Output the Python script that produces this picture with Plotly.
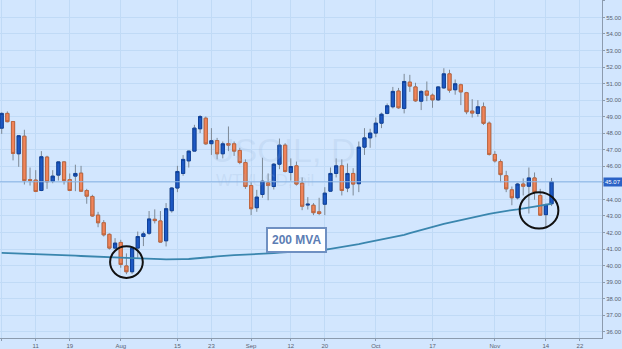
import pandas as pd
import plotly.graph_objects as go

# Daily WTI crude sessions, 1 Jul - 15 Nov 2016
dates = pd.bdate_range("2016-07-01", "2016-11-15")

opens = [48.31, 49.20, 48.71, 46.76, 47.82, 45.20, 45.17, 44.54, 46.56, 45.10,
         45.47, 46.27, 45.20, 45.41, 45.59, 44.54, 44.18, 43.05, 42.59, 41.89,
         41.06, 41.40, 39.98, 39.63, 41.06, 41.76, 41.96, 42.80, 42.70, 41.50,
         43.32, 44.69, 45.57, 46.33, 46.92, 48.27, 48.91, 47.37, 47.56, 46.76,
         47.38, 47.36, 46.96, 46.23, 44.84, 43.50, 44.30, 45.00, 44.78, 46.13,
         47.28, 45.63, 46.03, 44.98, 43.66, 43.65, 43.25, 43.71, 44.50, 45.57,
         46.03, 44.69, 45.57, 44.95, 47.16, 47.72, 48.01, 48.61, 49.20, 49.60,
         50.55, 49.50, 51.09, 50.80, 49.94, 50.55, 50.30, 50.02, 50.74, 51.59,
         50.63, 50.93, 50.45, 49.34, 49.20, 49.60, 48.61, 46.72, 46.29, 45.43,
         44.58, 44.10, 44.93, 44.80, 45.30, 44.24, 43.08, 43.74]
highs = [49.26, 49.32, 48.73, 47.89, 48.21, 45.93, 45.77, 46.92, 46.64, 45.77,
         46.30, 46.30, 45.57, 46.10, 46.03, 44.64, 44.28, 43.25, 42.75, 41.95,
         41.66, 41.56, 40.74, 41.12, 42.06, 42.06, 43.30, 43.40, 43.30, 43.78,
         44.74, 46.03, 46.68, 46.95, 48.51, 49.10, 49.01, 48.31, 47.72, 47.50,
         48.41, 47.50, 47.12, 46.42, 45.04, 44.58, 46.52, 45.57, 46.20, 47.68,
         47.40, 46.48, 46.29, 45.33, 44.14, 43.78, 44.10, 44.74, 45.93, 46.48,
         46.42, 46.17, 45.89, 47.50, 48.31, 48.27, 48.95, 49.25, 49.80, 50.80,
         50.74, 51.59, 51.53, 51.05, 50.60, 51.13, 50.40, 50.85, 51.93, 51.84,
         51.25, 51.00, 50.50, 50.06, 50.00, 49.86, 48.71, 46.92, 46.42, 45.73,
         44.78, 45.00, 45.27, 45.93, 45.63, 44.64, 43.75, 45.30]
lows = [47.96, 48.66, 46.36, 45.97, 44.90, 44.84, 44.44, 44.50, 44.64, 44.98,
        45.14, 44.90, 44.50, 44.50, 44.47, 43.74, 42.95, 42.32, 41.76, 40.97,
        41.00, 39.87, 39.48, 39.50, 40.47, 41.18, 41.86, 42.55, 41.40, 41.16,
        43.20, 44.44, 45.43, 45.93, 46.90, 48.01, 47.30, 46.69, 46.42, 46.48,
        46.92, 46.63, 46.13, 44.64, 43.05, 43.25, 44.10, 43.95, 44.60, 45.83,
        45.63, 45.14, 44.84, 43.35, 43.39, 43.05, 43.05, 43.05, 44.45, 45.33,
        44.24, 44.44, 44.24, 44.44, 46.69, 47.12, 47.76, 48.31, 49.15, 49.50,
        49.48, 49.20, 50.50, 49.90, 49.40, 49.94, 49.54, 49.95, 50.70, 50.45,
        50.33, 49.70, 49.15, 48.95, 49.00, 48.50, 46.65, 46.23, 45.04, 44.44,
        43.65, 44.00, 44.24, 43.15, 43.98, 43.00, 42.26, 43.60]
closes = [49.20, 48.70, 46.78, 47.85, 45.14, 45.15, 44.48, 46.58, 45.07, 45.41,
          46.27, 45.14, 44.54, 45.57, 44.50, 44.20, 43.00, 42.59, 41.86, 41.06,
          41.36, 40.07, 39.63, 41.06, 41.76, 41.92, 42.82, 42.72, 41.42, 43.44,
          44.69, 45.69, 46.42, 46.92, 48.31, 49.01, 47.36, 47.55, 46.76, 47.36,
          47.28, 46.92, 46.23, 44.78, 43.44, 44.14, 45.10, 44.84, 46.13, 47.28,
          45.69, 45.99, 44.93, 43.59, 43.71, 43.20, 43.15, 44.38, 45.57, 46.03,
          44.54, 45.57, 44.93, 47.16, 47.72, 48.01, 48.61, 49.15, 49.66, 50.53,
          49.54, 51.13, 50.85, 49.96, 50.53, 50.30, 50.02, 50.80, 51.59, 50.60,
          50.99, 50.50, 49.30, 49.22, 49.60, 48.60, 46.72, 46.33, 45.50, 44.64,
          44.10, 44.93, 44.80, 45.30, 44.44, 43.05, 43.68, 45.07]

# 200-day moving average
ma200 = [40.77, 40.76, 40.74, 40.73, 40.72, 40.70, 40.69, 40.68, 40.66, 40.65,
         40.63, 40.62, 40.61, 40.60, 40.58, 40.56, 40.55, 40.54, 40.52, 40.51,
         40.49, 40.48, 40.47, 40.45, 40.44, 40.42, 40.41, 40.40, 40.39, 40.38,
         40.37, 40.38, 40.39, 40.40, 40.42, 40.44, 40.48, 40.52, 40.56, 40.60,
         40.62, 40.64, 40.65, 40.66, 40.68, 40.69, 40.71, 40.73, 40.75, 40.78,
         40.80, 40.82, 40.85, 40.87, 40.89, 40.92, 40.94, 40.96, 41.01, 41.06,
         41.11, 41.16, 41.23, 41.30, 41.37, 41.44, 41.51, 41.58, 41.65, 41.72,
         41.76, 41.86, 41.96, 42.06, 42.16, 42.26, 42.36, 42.44, 42.52, 42.60,
         42.68, 42.77, 42.85, 42.92, 42.99, 43.06, 43.13, 43.19, 43.26, 43.31,
         43.36, 43.40, 43.44, 43.50, 43.56, 43.62, 43.68, 43.74]

tick_dates = ["2016-07-01", "2016-07-11", "2016-07-19", "2016-08-01", "2016-08-15",
              "2016-08-23", "2016-09-01", "2016-09-12", "2016-09-20", "2016-10-03",
              "2016-10-17", "2016-11-01", "2016-11-14", "2016-11-22"]
tick_text = ["Jul", "11", "19", "Aug", "15", "23", "Sep", "12", "20", "Oct",
             "17", "Nov", "14", "22"]

last_price = closes[-1]

UP = "#1D58C4"
DOWN = "#F0845A"
BG = "#D2E6FE"
GRID = "#C0DAF6"

fig = go.Figure()

# full candles: grey wicks
fig.add_trace(go.Candlestick(
    x=dates, open=opens, high=highs, low=lows, close=closes,
    increasing=dict(line=dict(color="#7D8996", width=1), fillcolor=UP),
    decreasing=dict(line=dict(color="#7D8996", width=1), fillcolor=DOWN),
    hoverinfo="skip", showlegend=False,
))
# bodies drawn again on top with darker outlines
fig.add_trace(go.Candlestick(
    x=dates, open=opens, close=closes,
    high=[max(o, c) for o, c in zip(opens, closes)],
    low=[min(o, c) for o, c in zip(opens, closes)],
    increasing=dict(line=dict(color="#0F429C", width=1), fillcolor=UP),
    decreasing=dict(line=dict(color="#C0673F", width=1), fillcolor=DOWN),
    hoverinfo="skip", showlegend=False,
))
fig.add_trace(go.Scatter(
    x=dates, y=ma200, mode="lines",
    line=dict(color="#3A86AE", width=1.8),
    hoverinfo="skip", showlegend=False,
))

# last price line
fig.add_shape(type="line", xref="paper", x0=0, x1=1, yref="y", y0=last_price, y1=last_price,
              line=dict(color="#8DB6E6", width=1))
fig.add_annotation(xref="paper", x=1.0, xanchor="left", yref="y", y=last_price,
                   text=f"{last_price:.2f}", showarrow=False,
                   font=dict(family="Arial", size=6, color="white"),
                   bgcolor="#2A62C6", borderpad=1, xshift=1)

# symbol watermark
fig.add_annotation(xref="paper", yref="paper", x=0.47, y=0.555, text="USOIL, D",
                   showarrow=False, font=dict(family="Arial", size=34, color="rgba(150,178,215,0.2)"))
fig.add_annotation(xref="paper", yref="paper", x=0.44, y=0.465, text="WTI/USD, oil",
                   showarrow=False, font=dict(family="Arial", size=17, color="rgba(150,178,215,0.2)"))

# highlighted touches of the moving average
fig.add_shape(type="circle", xref="paper", yref="paper",
              x0=111 / 607, x1=144 / 607, y0=1 - 282 / 343, y1=1 - 250 / 343,
              line=dict(color="#111111", width=2))
fig.add_shape(type="circle", xref="paper", yref="paper",
              x0=524 / 607, x1=563 / 607, y0=1 - 232 / 343, y1=1 - 195 / 343,
              line=dict(color="#111111", width=2))

fig.add_annotation(xref="paper", yref="paper", x=299 / 607, y=1 - 257 / 343,
                   text="<b>200 MVA</b>", showarrow=False,
                   font=dict(family="Arial", size=12, color="#5C7DB4"),
                   bgcolor="white", bordercolor="#6F90C2", borderwidth=2, borderpad=4)

fig.update_layout(
    width=622, height=349,
    margin=dict(l=0, r=15, t=0, b=6),
    paper_bgcolor=BG, plot_bgcolor=BG,
    boxgap=0.2,
    xaxis=dict(
        type="date",
        rangebreaks=[dict(bounds=["sat", "mon"])],
        range=["2016-06-30 16:48", "2016-11-25 21:36"],
        rangeslider=dict(visible=False),
        tickvals=tick_dates, ticktext=tick_text,
        showgrid=True, gridcolor=GRID, gridwidth=1,
        showline=True, linecolor="#8C9BAE", linewidth=1,
        ticks="outside", ticklen=2, tickcolor="#8C9BAE",
        tickfont=dict(family="Arial", size=6, color="#5A6270"),
        zeroline=False, fixedrange=True,
    ),
    yaxis=dict(
        side="right",
        range=[35.625, 56.054],
        dtick=1, tick0=0, tickformat=".2f",
        showgrid=True, gridcolor=GRID, gridwidth=1,
        showline=True, linecolor="#8C9BAE", linewidth=1,
        ticks="outside", ticklen=2, tickcolor="#8C9BAE",
        tickfont=dict(family="Arial", size=6, color="#5A6270"),
        zeroline=False, fixedrange=True,
    ),
    showlegend=False,
)

fig.write_html("out.html")
